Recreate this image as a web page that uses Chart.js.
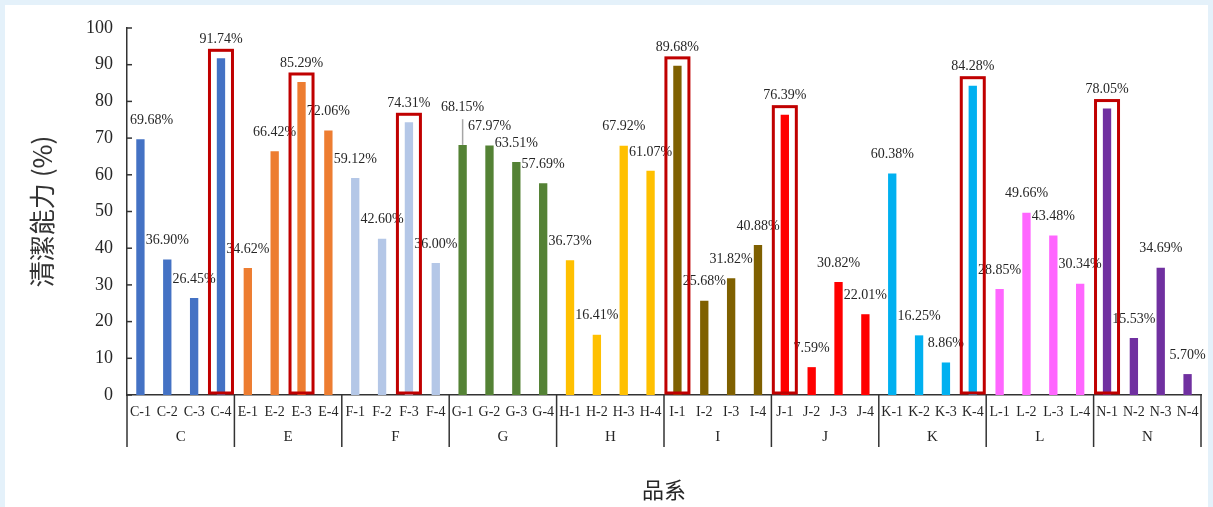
<!DOCTYPE html>
<html>
<head>
<meta charset="utf-8">
<script src="https://cdn.jsdelivr.net/npm/chart.js@4.4.1/dist/chart.umd.min.js"></script>
<style>
  html, body { margin: 0; padding: 0; background: #e4f1fa; }
  #wrap { position: absolute; left: 0; top: 0; width: 1213px; height: 507px; }
</style>
</head>
<body>
<div id="wrap"><canvas id="chart" width="1213" height="507"></canvas></div>
<script>
// Data
const groups = ['C', 'E', 'F', 'G', 'H', 'I', 'J', 'K', 'L', 'N'];
const categories = groups.flatMap(g => [g + '-1', g + '-2', g + '-3', g + '-4']);
const values = [
    69.68, 36.90, 26.45, 91.74,
    34.62, 66.42, 85.29, 72.06,
    59.12, 42.60, 74.31, 36.00,
    68.15, 67.97, 63.51, 57.69,
    36.73, 16.41, 67.92, 61.07,
    89.68, 25.68, 31.82, 40.88,
    76.39, 7.59, 30.82, 22.01,
    60.38, 16.25, 8.86, 84.28,
    28.85, 49.66, 43.48, 30.34,
    78.05, 15.53, 34.69, 5.70
];
// upper error bar (only G-1 shows one)
const errorUp = categories.map(c => c === 'G-1' ? 7.0 : 0);
const yTicks = [0, 10, 20, 30, 40, 50, 60, 70, 80, 90, 100];
const highlighted = ['C-4', 'E-3', 'F-3', 'I-1', 'J-1', 'K-4', 'N-1'];

const groupColors = ['#4472c4', '#ed7d31', '#b4c7e7', '#548235', '#ffc000',
                     '#7f6000', '#ff0000', '#00b0f0', '#ff66ff', '#7030a0'];
const barColors = categories.map((c, i) => groupColors[Math.floor(i / 4)]);

const serif = '"Liberation Serif", "Times New Roman", serif';
const cjk = '"Noto Sans CJK TC", "Noto Sans CJK SC", sans-serif';
const textColor = '#262626';

// Background panel
const panelPlugin = {
    id: 'panel',
    beforeDraw(chart) {
        const ctx = chart.ctx;
        ctx.save();
        ctx.fillStyle = '#e4f1fa';
        ctx.fillRect(0, 0, chart.width, chart.height);
        ctx.fillStyle = '#ffffff';
        ctx.fillRect(5, 5, chart.width - 10, chart.height - 5);
        ctx.restore();
    }
};

// Labels, error bar, red highlight boxes
const markPlugin = {
    id: 'marks',
    afterDatasetsDraw(chart) {
        const { ctx, chartArea } = chart;
        const y = chart.scales.y;
        const meta = chart.getDatasetMeta(0);
        ctx.save();

        // error bar
        ctx.strokeStyle = '#a6a6a6';
        ctx.lineWidth = 1.5;
        meta.data.forEach((bar, i) => {
            if (errorUp[i] > 0) {
                ctx.beginPath();
                ctx.moveTo(bar.x, bar.y);
                ctx.lineTo(bar.x, y.getPixelForValue(values[i] + errorUp[i]));
                ctx.stroke();
            }
        });

        // value labels
        ctx.font = '14px ' + serif;
        ctx.fillStyle = textColor;
        ctx.textAlign = 'center';
        ctx.textBaseline = 'middle';
        meta.data.forEach((bar, i) => {
            const text = values[i].toFixed(2) + '%';
            const w = ctx.measureText(text).width;
            let x = bar.x;
            if (x - w / 2 < chartArea.left + 3) x = chartArea.left + 3 + w / 2;
            const ty = errorUp[i] > 0
                ? y.getPixelForValue(values[i] + errorUp[i]) - 12
                : bar.y - 19;
            ctx.fillText(text, x, ty);
        });

        // red boxes
        ctx.strokeStyle = '#c00000';
        ctx.lineWidth = 3;
        meta.data.forEach((bar, i) => {
            if (!highlighted.includes(categories[i])) return;
            const top = bar.y - 8;
            const bottom = chartArea.bottom - 2;
            ctx.strokeRect(bar.x - 11.5, top, 23, bottom - top);
        });
        ctx.restore();
    },
    afterDraw(chart) {
        const { ctx, chartArea } = chart;
        const x = chart.scales.x;
        const y = chart.scales.y;
        ctx.save();

        // inward y ticks
        ctx.strokeStyle = '#333';
        ctx.lineWidth = 1.5;
        yTicks.forEach(v => {
            const py = y.getPixelForValue(v);
            ctx.beginPath();
            ctx.moveTo(chartArea.left, py);
            ctx.lineTo(chartArea.left + 5, py);
            ctx.stroke();
        });

        // group separators and labels
        const step = x.getPixelForValue(1) - x.getPixelForValue(0);
        ctx.font = '15px ' + serif;
        ctx.fillStyle = textColor;
        ctx.textAlign = 'center';
        ctx.textBaseline = 'middle';
        groups.forEach((g, gi) => {
            const left = x.getPixelForValue(gi * 4) - step / 2;
            ctx.beginPath();
            ctx.moveTo(left, chartArea.bottom);
            ctx.lineTo(left, chartArea.bottom + 52);
            ctx.stroke();
            const cx = (x.getPixelForValue(gi * 4) + x.getPixelForValue(gi * 4 + 3)) / 2;
            ctx.fillText(g, cx, chartArea.bottom + 42);
        });
        const right = x.getPixelForValue(categories.length - 1) + step / 2;
        ctx.beginPath();
        ctx.moveTo(right, chartArea.bottom);
        ctx.lineTo(right, chartArea.bottom + 52);
        ctx.stroke();
        ctx.restore();
    }
};

const ctx = document.getElementById('chart').getContext('2d');
new Chart(ctx, {
    type: 'bar',
    data: {
        labels: categories,
        datasets: [{
            data: values,
            backgroundColor: barColors,
            borderWidth: 0,
            barPercentage: 0.31,
            categoryPercentage: 1.0
        }]
    },
    options: {
        responsive: false,
        animation: false,
        layout: { padding: { left: 0, right: 12, top: 28, bottom: 0 } },
        plugins: {
            legend: { display: false },
            tooltip: { enabled: false }
        },
        scales: {
            x: {
                offset: true,
                grid: { display: false, drawTicks: false },
                border: { display: true, color: '#333', width: 1.5 },
                ticks: {
                    autoSkip: false,
                    maxRotation: 0,
                    padding: 9,
                    color: textColor,
                    font: { family: serif, size: 14 }
                },
                title: {
                    display: true,
                    text: '品系',
                    color: textColor,
                    font: { family: cjk, size: 22 },
                    padding: { top: 0, bottom: 4 }
                },
                afterFit(scale) { scale.height = 112; }
            },
            y: {
                min: 0,
                max: 100,
                afterBuildTicks(scale) { scale.ticks = yTicks.map(v => ({ value: v })); },
                grid: { display: false, drawTicks: false },
                border: { display: true, color: '#333', width: 1.5 },
                ticks: {
                    padding: 14,
                    color: textColor,
                    font: { family: serif, size: 18 }
                },
                title: {
                    display: true,
                    text: '清潔能力 (%)',
                    color: '#333',
                    font: { family: cjk, size: 26 },
                    padding: { top: 27, bottom: 0 }
                },
                afterFit(scale) { scale.width = 127; }
            }
        }
    },
    plugins: [panelPlugin, markPlugin]
});
</script>
</body>
</html>
